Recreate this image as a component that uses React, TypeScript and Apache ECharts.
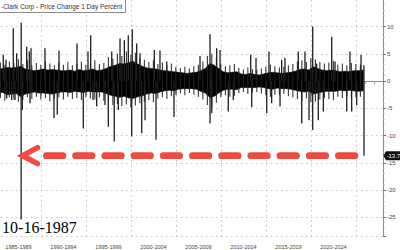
import React, { useEffect, useRef } from "react";
import * as echarts from "echarts";

// ---- tick labels / categories ----
const titleText = "-Clark Corp - Price Change 1 Day Percent";
const periodLabels = ["1985-1989", "1990-1994", "1995-1999", "2000-2004", "2005-2009", "2010-2014", "2015-2019", "2020-2024"];
const periodMidYears = [1987.5, 1992.5, 1997.5, 2002.5, 2007.5, 2012.5, 2017.5, 2022.5];
const separatorYears = [1990, 1995, 2000, 2005, 2010, 2015, 2020, 2025];
const yTickValues = [10, 5, 0, -5, -10, -15, -20, -25];

// ---- solid core of daily moves, half-year envelope: [year, high %, low %] ----
const coreBand: [number, number, number][] = [
  [1985.0, 2.0, -2.2], [1985.75, 2.3, -2.1], [1986.25, 2.5, -2.5], [1986.75, 2.4, -2.4],
  [1987.25, 2.5, -2.3], [1987.75, 2.7, -2.9], [1988.25, 2.2, -2.4], [1988.75, 2.0, -2.2],
  [1989.25, 1.9, -2.0], [1989.75, 2.0, -2.2], [1990.25, 2.2, -2.2], [1990.75, 2.0, -2.3],
  [1991.25, 2.1, -2.4], [1991.75, 2.0, -2.2], [1992.25, 1.9, -2.0], [1992.75, 1.9, -2.0],
  [1993.25, 2.0, -2.1], [1993.75, 1.8, -1.9], [1994.25, 2.1, -2.0], [1994.75, 1.9, -2.1],
  [1995.25, 2.0, -1.9], [1995.75, 2.2, -2.0], [1996.25, 1.9, -2.0], [1996.75, 2.0, -2.0],
  [1997.25, 2.3, -2.3], [1997.75, 2.7, -2.6], [1998.25, 2.9, -2.8], [1998.75, 3.2, -3.0],
  [1999.25, 3.1, -2.8], [1999.75, 3.4, -3.1], [2000.25, 3.6, -3.2], [2000.75, 3.1, -2.9],
  [2001.25, 2.7, -2.7], [2001.75, 2.4, -2.4], [2002.25, 2.3, -2.2], [2002.75, 2.2, -2.3],
  [2003.25, 2.0, -2.0], [2003.75, 1.9, -1.8], [2004.25, 1.8, -1.7], [2004.75, 1.7, -1.8],
  [2005.25, 1.6, -1.5], [2005.75, 1.5, -1.4], [2006.25, 1.4, -1.4], [2006.75, 1.5, -1.4],
  [2007.25, 1.6, -1.5], [2007.75, 1.9, -1.9], [2008.25, 2.3, -2.2], [2008.75, 3.2, -3.0],
  [2009.25, 2.9, -2.8], [2009.75, 2.3, -2.2], [2010.25, 1.7, -1.7], [2010.75, 1.5, -1.5],
  [2011.25, 1.6, -1.5], [2011.75, 1.7, -1.6], [2012.25, 1.3, -1.2], [2012.75, 1.2, -1.2],
  [2013.25, 1.4, -1.2], [2013.75, 1.2, -1.2], [2014.25, 1.1, -1.1], [2014.75, 1.3, -1.2],
  [2015.25, 1.5, -1.4], [2015.75, 1.6, -1.5], [2016.25, 1.5, -1.3], [2016.75, 1.4, -1.4],
  [2017.25, 1.5, -1.4], [2017.75, 1.6, -1.5], [2018.25, 1.8, -1.7], [2018.75, 2.1, -1.9],
  [2019.25, 2.2, -2.0], [2019.75, 2.0, -1.9], [2020.25, 2.6, -2.4], [2020.75, 2.3, -2.2],
  [2021.25, 2.0, -2.0], [2021.75, 1.9, -1.9], [2022.25, 2.0, -1.9], [2022.75, 1.9, -1.9],
  [2023.25, 1.7, -1.7], [2023.75, 1.8, -1.8], [2024.25, 1.7, -1.7], [2024.75, 1.9, -1.8],
  [2025.25, 1.9, -1.9], [2025.85, 2.0, -1.8],
];

// ---- ragged edge of the band: typical larger move in each half year ----
const edgeUp: [number, number][] = [
  [1985.5, 3.4], [1986.0, 3.0], [1986.5, 3.6], [1987.0, 3.3], [1987.5, 4.0], [1988.0, 3.1],
  [1988.5, 3.8], [1989.0, 2.9], [1989.5, 3.3], [1990.0, 3.0], [1990.5, 3.6], [1991.0, 3.2],
  [1991.5, 2.9], [1992.0, 3.4], [1992.5, 3.0], [1993.0, 3.5], [1993.5, 2.9], [1994.0, 3.2],
  [1994.5, 3.6], [1995.0, 3.0], [1995.5, 3.4], [1996.0, 3.8], [1996.5, 3.1], [1997.0, 3.3],
  [1997.5, 4.4], [1998.0, 4.1], [1998.5, 5.0], [1999.0, 4.6], [1999.5, 5.4], [2000.0, 4.8],
  [2000.5, 5.2], [2001.0, 4.2], [2001.5, 3.9], [2002.0, 3.5], [2002.5, 3.8], [2003.0, 3.1],
  [2003.5, 3.4], [2004.0, 2.9], [2004.5, 3.2], [2005.0, 2.6], [2005.5, 2.4], [2006.0, 2.6],
  [2006.5, 2.3], [2007.0, 2.7], [2007.5, 3.0], [2008.0, 3.6], [2008.5, 4.6], [2009.0, 5.0],
  [2009.5, 4.2], [2010.0, 3.2], [2010.5, 2.7], [2011.0, 2.9], [2011.5, 3.1], [2012.0, 2.4],
  [2012.5, 2.1], [2013.0, 2.5], [2013.5, 2.2], [2014.0, 2.0], [2014.5, 2.3], [2015.0, 2.6],
  [2015.5, 3.0], [2016.0, 2.7], [2016.5, 2.5], [2017.0, 2.6], [2017.5, 2.9], [2018.0, 3.1],
  [2018.5, 3.6], [2019.0, 3.8], [2019.5, 3.5], [2020.0, 4.2], [2020.5, 4.0], [2021.0, 3.5],
  [2021.5, 3.2], [2022.0, 3.4], [2022.5, 3.7], [2023.0, 3.0], [2023.5, 3.2], [2024.0, 2.9],
  [2024.5, 3.3], [2025.0, 3.1], [2025.5, 3.0],
];
const edgeDown: [number, number][] = [
  [1985.5, -3.1], [1986.0, -3.6], [1986.5, -3.0], [1987.0, -3.4], [1987.5, -3.8], [1988.0, -3.5],
  [1988.5, -3.0], [1989.0, -3.3], [1989.5, -2.9], [1990.0, -3.4], [1990.5, -3.1], [1991.0, -3.7],
  [1991.5, -3.2], [1992.0, -3.0], [1992.5, -3.4], [1993.0, -2.9], [1993.5, -3.3], [1994.0, -3.1],
  [1994.5, -3.5], [1995.0, -3.0], [1995.5, -3.2], [1996.0, -3.4], [1996.5, -3.0], [1997.0, -3.6],
  [1997.5, -4.0], [1998.0, -4.4], [1998.5, -4.2], [1999.0, -4.6], [1999.5, -4.3], [2000.0, -4.8],
  [2000.5, -4.5], [2001.0, -4.1], [2001.5, -3.8], [2002.0, -3.5], [2002.5, -3.9], [2003.0, -3.2],
  [2003.5, -3.0], [2004.0, -3.3], [2004.5, -2.8], [2005.0, -2.5], [2005.5, -2.3], [2006.0, -2.6],
  [2006.5, -2.2], [2007.0, -2.5], [2007.5, -2.9], [2008.0, -3.4], [2008.5, -4.4], [2009.0, -4.8],
  [2009.5, -4.0], [2010.0, -3.0], [2010.5, -2.6], [2011.0, -2.9], [2011.5, -2.7], [2012.0, -2.2],
  [2012.5, -2.0], [2013.0, -2.4], [2013.5, -2.1], [2014.0, -2.0], [2014.5, -2.3], [2015.0, -2.6],
  [2015.5, -2.9], [2016.0, -2.5], [2016.5, -2.6], [2017.0, -2.4], [2017.5, -2.8], [2018.0, -3.0],
  [2018.5, -3.3], [2019.0, -3.6], [2019.5, -3.2], [2020.0, -3.9], [2020.5, -3.8], [2021.0, -3.4],
  [2021.5, -3.1], [2022.0, -3.3], [2022.5, -3.5], [2023.0, -2.9], [2023.5, -3.1], [2024.0, -2.8],
  [2024.5, -3.2], [2025.0, -3.0], [2025.5, -2.9],
];

// ---- single-day spikes: [year, % change] ----
const upSpikes: [number, number][] = [
  [1985.81, 4.8], [1986.11, 3.9], [1986.92, 9.7], [1987.3, 5.1], [1987.8, 10.7],
  [1988.41, 6.3], [1988.7, 5.4], [1988.89, 6.0], [1990.44, 6.0], [1992.0, 5.6],
  [1994.0, 6.9], [1995.22, 5.4], [1995.52, 8.4], [1997.86, 5.4], [1998.78, 7.8],
  [1999.26, 7.5], [1999.7, 8.4], [2000.14, 9.5], [2000.63, 6.9], [2001.0, 5.1],
  [2002.59, 5.7], [2003.22, 5.6], [2003.97, 3.6], [2007.67, 4.6], [2008.78, 8.6],
  [2009.52, 6.0], [2009.89, 5.7], [2013.3, 4.8], [2013.89, 4.2], [2015.33, 5.4],
  [2016.74, 3.9], [2017.11, 4.2], [2018.59, 5.4], [2019.33, 5.4], [2020.19, 10.0],
  [2020.63, 3.2], [2022.3, 8.1], [2022.67, 3.6], [2024.33, 5.4], [2025.56, 4.8],
  [2025.88, 2.9],
];
const downSpikes: [number, number][] = [
  [1986.19, -3.2], [1986.74, -3.5], [1987.11, -3.5], [1987.79, -25.4], [1987.92, -5.3],
  [1988.78, -4.1], [1991.44, -6.8], [1991.81, -6.2], [1994.7, -8.7], [1995.78, -3.5],
  [1996.19, -4.7], [1997.11, -4.4], [1997.48, -8.4], [1998.14, -11.1], [1998.59, -5.3],
  [2000.08, -10.2], [2001.19, -9.6], [2001.56, -7.2], [2002.78, -10.8], [2004.78, -6.6],
  [2008.78, -7.8], [2008.97, -5.9], [2010.81, -5.6], [2011.37, -3.5], [2013.41, -4.8],
  [2015.08, -5.9], [2015.63, -4.1], [2016.56, -4.7], [2018.97, -7.8], [2019.78, -7.2],
  [2020.19, -9.0], [2020.81, -7.2], [2021.37, -5.6], [2023.97, -5.6], [2024.52, -5.6],
  [2025.08, -4.4], [2025.89, -13.7],
];

// ---- annotations ----
const crashLabel = "10-16-1987";
const crashPoint: [number, number] = [1987.79, -25.4];
const lastValue = -13.7;
const lastValueLabel = "-13.7";
const arrowTipYear = 1987.95;
const arrowDashFromYear = 1990.6;
const arrowDashToYear = 2024.89;

const X_MIN = 1985;
const X_MAX = 2028;
const Y_MIN = -28.44;
const Y_MAX = 16.7;

const RED = "#ef4b43";
const FONT = "'Liberation Sans', Arial, sans-serif";

export default function App() {
  const ref = useRef<HTMLDivElement>(null);

  useEffect(() => {
    if (!ref.current) return;
    const chart = echarts.init(ref.current, null, { renderer: "svg" });

    const spikeBar = (name: string, data: [number, number][], color: string, w: number, z: number) => ({
      type: "bar",
      name,
      data,
      barWidth: w,
      barGap: "-100%",
      itemStyle: { color },
      silent: true,
      z,
    });

    const option: any = {
      animation: false,
      backgroundColor: "#ffffff",
      textStyle: { fontFamily: FONT },
      title: {
        text: titleText,
        left: 8,
        top: 6,
        padding: [7, 3, 3, 3],
        borderColor: "#8a8a8a",
        borderWidth: 1,
        backgroundColor: "#ffffff",
        textStyle: { fontSize: 6.5, color: "#333", fontWeight: "normal", fontFamily: FONT },
        z: 20,
      },
      grid: { left: 6, right: 17, top: 0, bottom: 14 },
      xAxis: {
        type: "value",
        min: X_MIN,
        max: X_MAX,
        interval: 5,
        axisLine: { show: true, lineStyle: { color: "#8c8c8c", width: 1 } },
        axisTick: {
          show: true,
          customValues: separatorYears,
          length: 14,
          lineStyle: { color: "#a0a0a0" },
        },
        minorTick: { show: true, splitNumber: 5, length: 3, lineStyle: { color: "#a0a0a0" } },
        axisLabel: {
          customValues: periodMidYears,
          formatter: (v: number) => {
            const i = periodMidYears.indexOf(v);
            return i >= 0 ? periodLabels[i] : "";
          },
          fontSize: 5.5,
          color: "#444",
          margin: 8,
          fontFamily: FONT,
        },
        splitLine: { show: true, lineStyle: { color: "#c4c4c4", type: [1.5, 3.5], width: 1 } },
      },
      yAxis: {
        type: "value",
        position: "right",
        min: Y_MIN,
        max: Y_MAX,
        minInterval: 5,
        maxInterval: 5,
        axisLine: { show: true, lineStyle: { color: "#8c8c8c", width: 1 } },
        axisTick: { show: true, length: 3, lineStyle: { color: "#777" } },
        minorTick: { show: true, splitNumber: 5, length: 1.5, lineStyle: { color: "#aaa" } },
        axisLabel: {
          showMinLabel: false,
          showMaxLabel: false,
          formatter: (v: number) => (yTickValues.indexOf(v) >= 0 ? String(v) : ""),
          fontSize: 6,
          color: "#444",
          margin: 4,
          fontFamily: FONT,
        },
        splitLine: { show: true, lineStyle: { color: "#c4c4c4", type: [1.5, 3.5], width: 1 } },
      },
      series: [
        {
          type: "line",
          name: "bandHigh",
          data: coreBand.map((d) => [d[0], d[1]]),
          symbol: "none",
          lineStyle: { color: "#000", width: 0.6 },
          areaStyle: { color: "#000", opacity: 1, origin: 0 },
          silent: true,
          z: 2,
        },
        {
          type: "line",
          name: "bandLow",
          data: coreBand.map((d) => [d[0], d[2]]),
          symbol: "none",
          lineStyle: { color: "#000", width: 0.6 },
          areaStyle: { color: "#000", opacity: 1, origin: 0 },
          silent: true,
          z: 2,
        },
        spikeBar("edgeUp", edgeUp, "#222", 1, 3),
        spikeBar("edgeDown", edgeDown, "#222", 1, 3),
        spikeBar("up", upSpikes, "#1e1e1e", 1.3, 4),
        spikeBar("down", downSpikes, "#1e1e1e", 1.3, 4),
        {
          type: "custom",
          name: "arrow",
          silent: true,
          z: 10,
          data: [[arrowTipYear, arrowDashFromYear, arrowDashToYear, lastValue]],
          renderItem: (_params: any, api: any) => {
            const tip = api.coord([api.value(0), api.value(3)]);
            const from = api.coord([api.value(1), api.value(3)]);
            const to = api.coord([api.value(2), api.value(3)]);
            return {
              type: "group",
              children: [
                {
                  type: "polyline",
                  shape: {
                    points: [
                      [tip[0] + 15, tip[1] - 8],
                      [tip[0], tip[1]],
                      [tip[0] + 15, tip[1] + 8],
                    ],
                  },
                  style: { stroke: RED, lineWidth: 5.5, fill: null, lineJoin: "miter", lineCap: "round" },
                },
                {
                  type: "line",
                  shape: { x1: from[0], y1: from[1], x2: to[0], y2: to[1] },
                  style: { stroke: RED, lineWidth: 6.8, lineDash: [16.5, 12.7], lineCap: "round" },
                },
              ],
            };
          },
        },
        {
          type: "custom",
          name: "tags",
          silent: true,
          z: 12,
          data: [[X_MAX, lastValue, crashPoint[0], crashPoint[1]]],
          renderItem: (_params: any, api: any) => {
            const p = api.coord([api.value(0), api.value(1)]);
            const c = api.coord([api.value(2), api.value(3)]);
            return {
              type: "group",
              children: [
                {
                  type: "polygon",
                  shape: {
                    points: [
                      [p[0] + 0.5, p[1]],
                      [p[0] + 3, p[1] - 4.5],
                      [p[0] + 40, p[1] - 4.5],
                      [p[0] + 40, p[1] + 4.5],
                      [p[0] + 3, p[1] + 4.5],
                    ],
                  },
                  style: { fill: "#111" },
                },
                {
                  type: "text",
                  x: p[0] + 3.5,
                  y: p[1] + 0.3,
                  style: {
                    text: lastValueLabel,
                    fill: "#fff",
                    font: `6px ${FONT}`,
                    verticalAlign: "middle",
                    align: "left",
                  },
                },
                {
                  type: "text",
                  x: c[0] - 19,
                  y: c[1] + 16,
                  style: {
                    text: crashLabel,
                    fill: "#000",
                    font: "16px 'Liberation Serif', 'Times New Roman', serif",
                    verticalAlign: "bottom",
                    align: "left",
                  },
                },
              ],
            };
          },
        },
      ],
    };

    chart.setOption(option);
    return () => chart.dispose();
  }, []);

  return (
    <div
      ref={ref}
      style={{ position: "fixed", left: -10, top: -10, width: 410, height: 260, background: "#fff" }}
    />
  );
}
